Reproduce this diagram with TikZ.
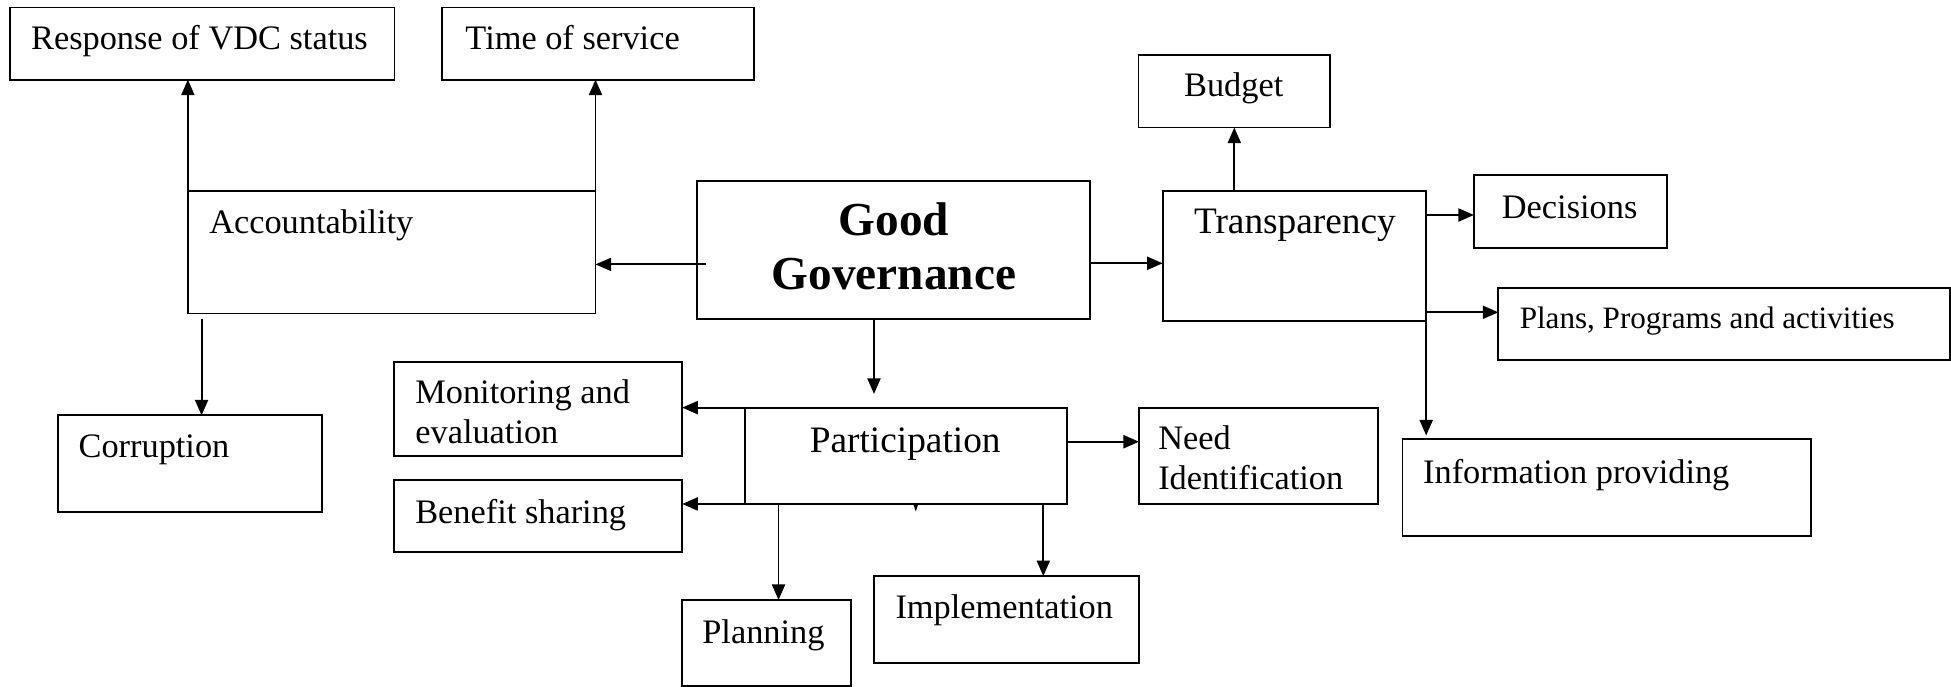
\documentclass[tikz,border=0pt]{standalone}
\usepackage{fontspec}
\setmainfont{Liberation Serif}
\usetikzlibrary{arrows.meta}
\begin{document}
\begin{tikzpicture}[x=1pt,y=-1pt,
  box/.style={draw,line width=1.5pt,anchor=north west,inner sep=0pt,outer sep=0pt},
  txt/.style={inner sep=0pt,font=\fontsize{27.6}{33}\selectfont},
  lt/.style={txt,anchor=base west},
  ct/.style={txt,anchor=base},
  conn/.style={line width=1.5pt,-{Triangle[length=12.5pt,width=10.5pt]}}]
\useasboundingbox (0,0) rectangle (1568,552);
% boxes
\node[box,minimum width=309pt,minimum height=58pt] (resp) at (8,6) {};
\node[box,minimum width=251pt,minimum height=58pt] (time) at (355,6) {};
\node[box,minimum width=154pt,minimum height=58.5pt] (budget) at (915,44) {};
\node[box,minimum width=327.6pt,minimum height=98.5pt] (acc) at (151,153.5) {};
\node[box,minimum width=315.8pt,minimum height=111pt] (gg) at (560.5,145.5) {};
\node[box,minimum width=211.8pt,minimum height=104.3pt] (trans) at (934.4,153.5) {};
\node[box,minimum width=155pt,minimum height=58.4pt] (dec) at (1184.6,140.6) {};
\node[box,minimum width=362.8pt,minimum height=58pt] (plans) at (1204.2,231.2) {};
\node[box,minimum width=212.6pt,minimum height=77.4pt] (corr) at (46.4,333.8) {};
\node[box,minimum width=231.6pt,minimum height=75.8pt] (mon) at (316.7,290.7) {};
\node[box,minimum width=258.4pt,minimum height=77.4pt] (part) at (599,327.6) {};
\node[box,minimum width=192.1pt,minimum height=77.4pt] (need) at (915.4,327.6) {};
\node[box,minimum width=231.6pt,minimum height=57.6pt] (ben) at (316.7,385.8) {};
\node[box,minimum width=328pt,minimum height=77.5pt] (info) at (1127.2,353) {};
\node[box,minimum width=135.4pt,minimum height=69pt] (plan) at (548.3,482.2) {};
\node[box,minimum width=212.8pt,minimum height=69.6pt] (impl) at (702.6,463) {};
% texts
\node[lt] (respT) at (24.8,39.7) {Response of VDC status};
\node[lt] (timeT) at (373.9,39.7) {Time of service};
\node[ct] (budgetT) at (991.5,77.7) {Budget};
\node[lt] (accT) at (168,187.5) {Accountability};
\node[ct,font=\fontsize{38}{44}\bfseries] (ggT1) at (718.5,188.9) {Good};
\node[ct,font=\fontsize{38}{44}\bfseries] (ggT2) at (718.5,233) {Governance};
\node[ct,font=\fontsize{30}{36}\selectfont] (transT) at (1040.7,187.4) {Transparency};
\node[ct] (decT) at (1261.5,175.5) {Decisions};
\node[lt,font=\fontsize{25}{30}\selectfont] (plansT) at (1221.2,263.9) {Plans, Programs and activities};
\node[lt] (corrT) at (63,367.8) {Corruption};
\node[lt] (monT1) at (333.6,324) {Monitoring and};
\node[lt] (monT2) at (333.6,356.3) {evaluation};
\node[ct,font=\fontsize{30}{36}\selectfont] (partT) at (727.5,363.8) {Participation};
\node[lt] (needT1) at (930.7,361) {Need};
\node[lt] (needT2) at (930.7,393.3) {Identification};
\node[lt] (benT) at (333.6,420.6) {Benefit sharing};
\node[lt] (infoT) at (1143.6,388.4) {Information providing};
\node[lt] (planT) at (564.3,517) {Planning};
\node[lt] (implT) at (719.5,497) {Implementation};
% connectors
\draw[conn] (acc.north west) -- (acc.north west |- resp.south);
\draw[conn] (acc.north east) -- (acc.north east |- time.south);
\draw[conn] ([yshift=-4pt]acc.south -| 162,0) -- (corr.north -| 162,0);
\draw[conn] ([xshift=7pt]gg.west |- 0,212.5) -- (acc.east |- 0,212.5);
\draw[conn] (gg.east |- 0,211.6) -- (trans.west |- 0,211.6);
\draw[conn] (budget.south |- trans.north) -- (budget.south);
\draw[conn] (trans.east |- 0,172.8) -- (dec.west |- 0,172.8);
\draw[conn] (trans.east |- 0,251) -- (plans.west |- 0,251);
\draw[conn] (trans.south east) -- ([yshift=3pt]trans.south east |- info.north);
\draw[conn] (gg.south -| 702.4,0) -- ([yshift=11pt]part.north -| 702.4,0);
\draw[conn] (part.north west) -- (mon.east |- part.north west);
\draw[conn] (part.south west) -- (ben.east |- part.south west);
\draw[conn] (part.east |- 0,355) -- (need.west |- 0,355);
\draw[conn] (part.south -| 625.7,0) -- (plan.north -| 625.7,0);
\draw[conn] (part.south -| 838.5,0) -- (impl.north -| 838.5,0);
\fill (733.8,404.5) -- (738.2,404.5) -- (736,411) -- cycle;
\end{tikzpicture}
\end{document}
